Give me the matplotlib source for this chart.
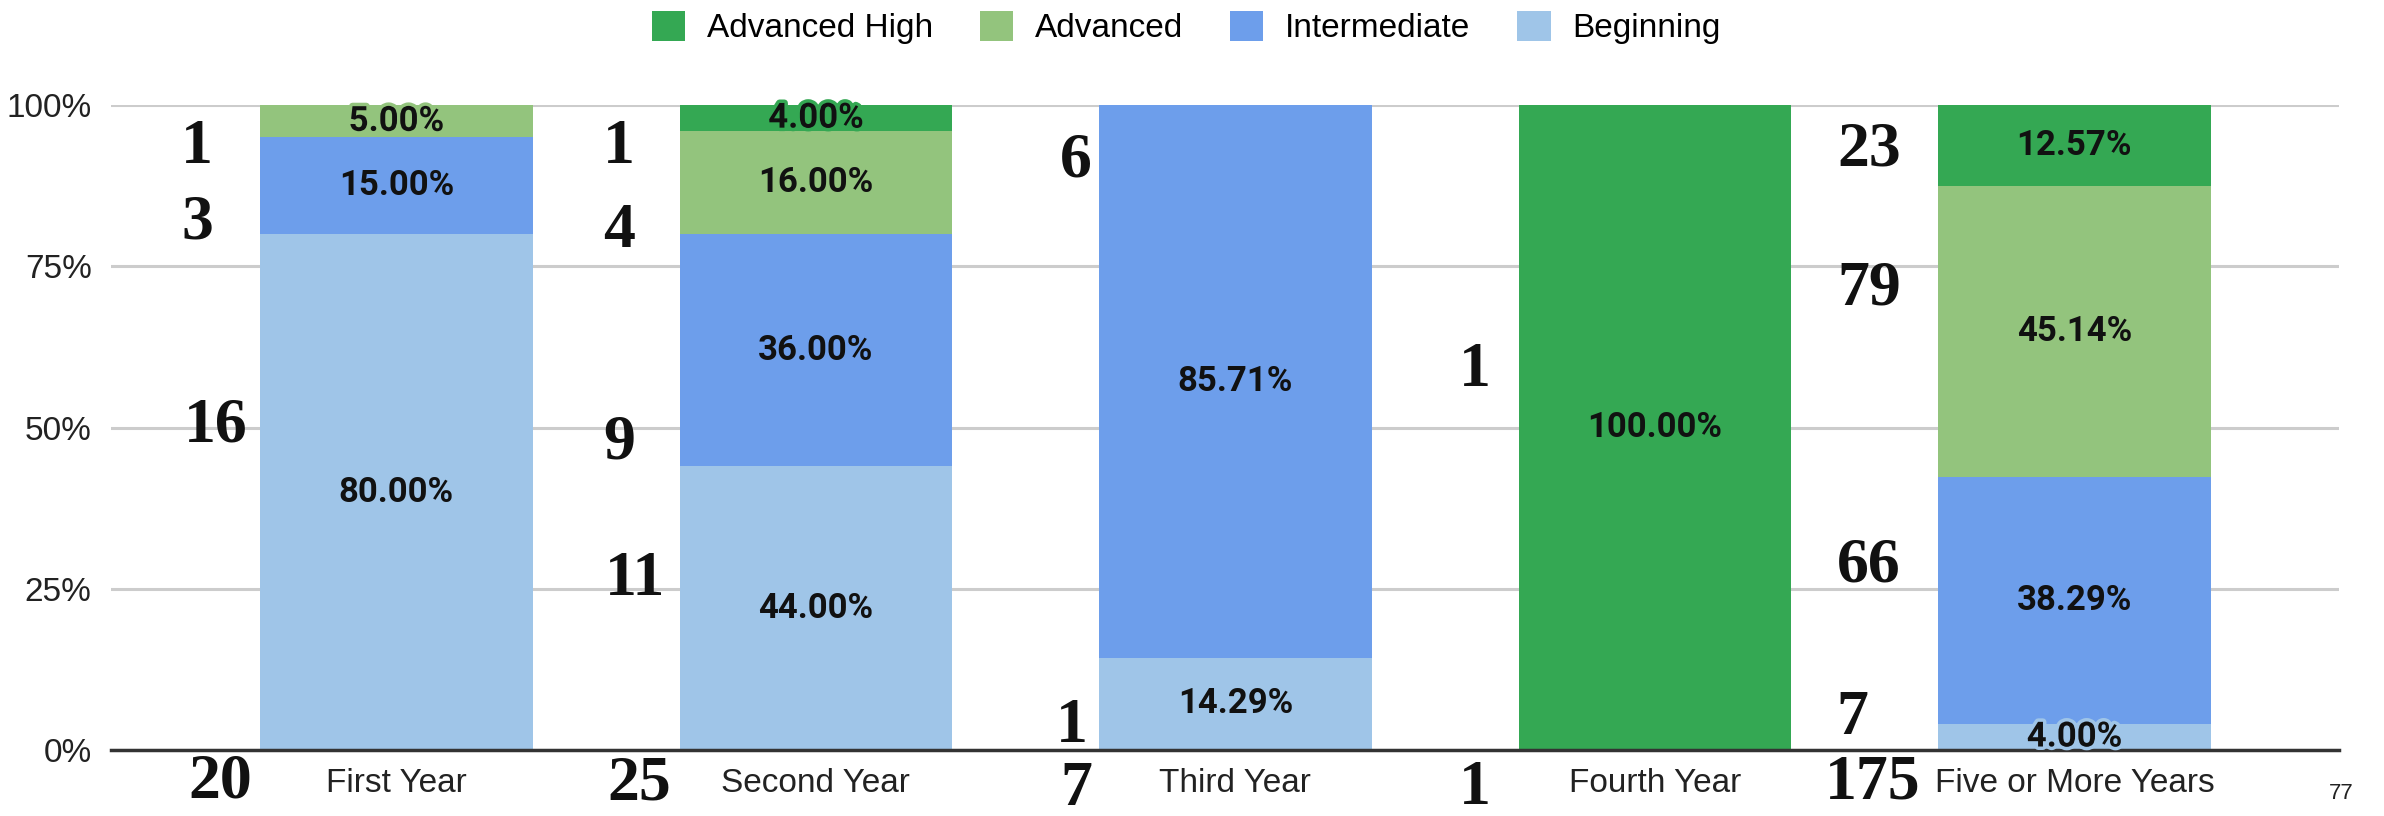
import matplotlib
matplotlib.use("Agg")
import matplotlib.pyplot as plt
import matplotlib.patheffects as pe
import numpy as np

# === Veriler ===
categories = ["First Year", "Second Year", "Third Year", "Fourth Year", "Five or More Years"]
levels = ["Advanced High", "Advanced", "Intermediate", "Beginning"]

beginning = [80.00, 44.00, 14.29, 0.00, 4.00]
intermediate = [15.00, 36.00, 85.71, 0.00, 38.29]
advanced = [5.00, 16.00, 0.00, 0.00, 45.14]
advanced_high = [0.00, 4.00, 0.00, 100.00, 12.57]

# elle yazılmış öğrenci sayıları (kategori indeksi, metin)
count_cat = [0, 0, 0, 0, 1, 1, 1, 1, 1, 2, 2, 2, 3, 3, 4, 4, 4, 4, 4]
count_txt = ["1", "3", "16", "20", "1", "4", "9", "11", "25", "6", "1", "7",
             "1", "1", "23", "79", "66", "7", "175"]
# yerleşim (veri değil): y konumu ve x kayması
count_y = [93.4, 81.6, 50.2, -5.0, 93.4, 80.4, 47.6, 26.4, -5.4, 91.2, 3.6, -6.2,
           58.8, -6.0, 93.0, 71.4, 28.5, 4.8, -5.2]
count_dx = [-0.475, -0.475, -0.43, -0.42, -0.47, -0.47, -0.47, -0.43, -0.42, -0.38, -0.39,
            -0.38, -0.43, -0.43, -0.49, -0.49, -0.49, -0.53, -0.48]

colors = {
    "Advanced High": "#34a853",
    "Advanced": "#93c47d",
    "Intermediate": "#6d9eeb",
    "Beginning": "#9fc5e8",
}

series = {
    "Beginning": beginning,
    "Intermediate": intermediate,
    "Advanced": advanced,
    "Advanced High": advanced_high,
}

fig = plt.figure(figsize=(23.84, 8.16), dpi=100)
ax = fig.add_axes([0.0466, 0.081, 0.9344, 0.790])

x = np.arange(len(categories))
bottom = np.zeros(len(categories))
bars = {}
for name in ["Beginning", "Intermediate", "Advanced", "Advanced High"]:
    vals = np.array(series[name])
    bars[name] = ax.bar(x, vals, 0.65, bottom=bottom, color=colors[name], label=name, zorder=2)
    for xi, v, b in zip(x, vals, bottom):
        if v <= 0:
            continue
        t = ax.text(xi, b + v / 2, f"{v:.2f}%", ha="center", va="center",
                    fontsize=25, fontweight="bold", family="Roboto", color="#111111", zorder=4)
        if v < 6:
            t.set_path_effects([pe.withStroke(linewidth=5, foreground=colors[name])])
    bottom += vals

for c, txt, yy, dx in zip(count_cat, count_txt, count_y, count_dx):
    ax.text(c + dx, yy, txt, ha="center", va="center", fontsize=46, fontweight="bold",
            family="Liberation Serif", color="#111111", zorder=5, clip_on=False)

ax.set_xlim(-0.68, 4.63)
ax.set_ylim(0, 100)
ax.set_yticks([0, 25, 50, 75, 100])
ax.set_yticklabels(["0%", "25%", "50%", "75%", "100%"], fontsize=24, family="Liberation Sans",
                   color="#222222")
ax.set_xticks(x)
ax.set_xticklabels(categories, fontsize=24, family="Liberation Sans", color="#222222")
ax.tick_params(axis="y", length=0, pad=14)
ax.tick_params(axis="x", length=0, pad=13)
ax.grid(axis="y", color="#cccccc", linewidth=2.2, zorder=0)
for s in ["top", "right", "left"]:
    ax.spines[s].set_visible(False)
ax.spines["bottom"].set_color("#333333")
ax.spines["bottom"].set_linewidth(2.5)
ax.spines["bottom"].set_zorder(3)

handles = [bars[n] for n in levels]
leg = fig.legend(handles, levels, loc="center", bbox_to_anchor=(0.4976, 0.966), ncol=4,
                 frameon=False, prop={"family": "Liberation Sans", "size": 24},
                 handlelength=1.0, handleheight=1.0, columnspacing=1.4, handletextpad=0.66)

fig.text(0.982, 0.028, "77", fontsize=16, family="Liberation Sans", color="#222222",
         ha="center", va="center")

fig.savefig("out.png", dpi=100, facecolor="white")
plt.close(fig)
